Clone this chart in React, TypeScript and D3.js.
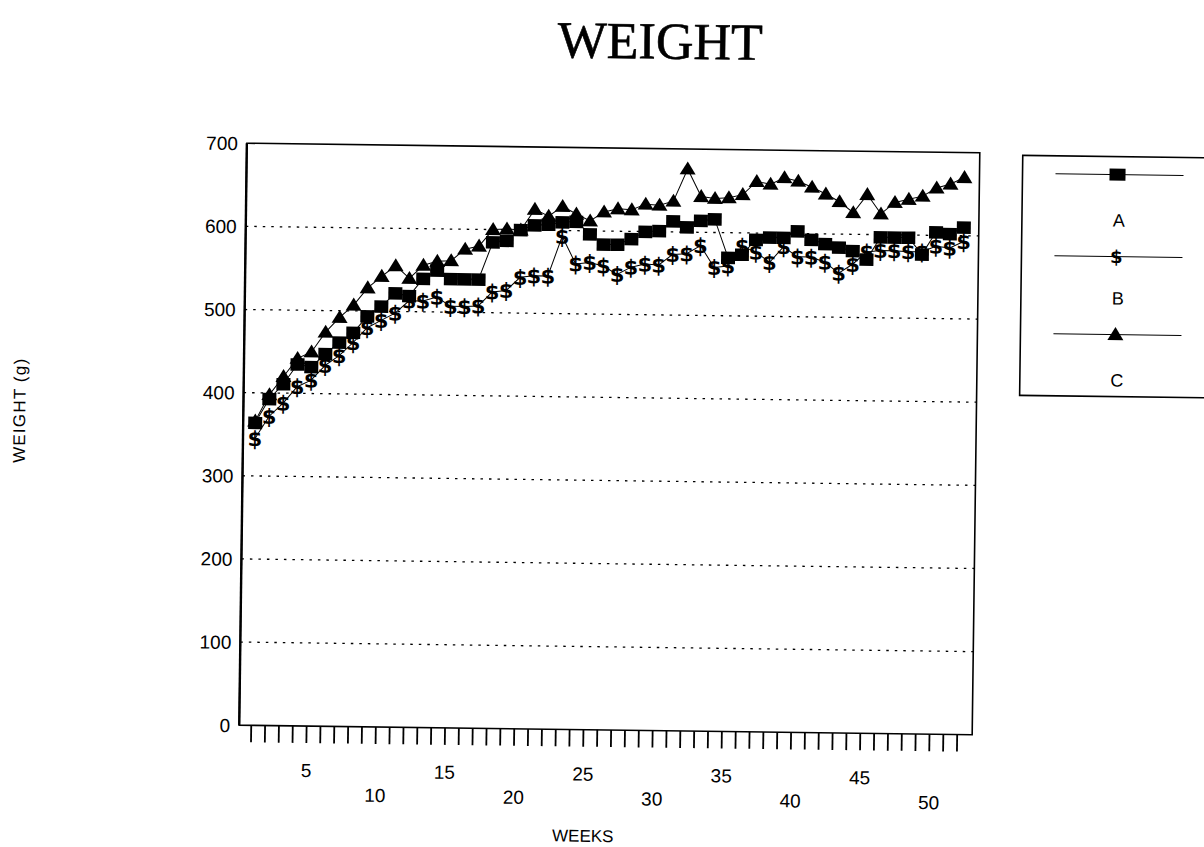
import React from "react";
import * as d3 from "d3";

const WEEKS = [1, 2, 3, 4, 5, 6, 7, 8, 9, 10, 11, 12, 13, 14, 15, 16, 17, 18, 19, 20, 21, 22, 23, 24, 25, 26, 27, 28, 29, 30, 31, 32, 33, 34, 35, 36, 37, 38, 39, 40, 41, 42, 43, 44, 45, 46, 47, 48, 49, 50, 51, 52];

const SERIES_A = [364, 393, 411, 435, 432, 448, 462, 474, 494, 506, 522, 519, 540, 550, 540, 540, 540, 585, 587, 600, 606, 607, 610, 611, 596, 584, 584, 591, 600, 601, 613, 606, 614, 616, 570, 574, 592, 595, 595, 603, 593, 588, 584, 580, 570, 597, 597, 597, 577, 604, 602, 610];

const SERIES_B = [345, 372, 388, 408, 416, 434, 446, 462, 480, 489, 498, 513, 513, 518, 507, 507, 508, 525, 527, 543, 545, 545, 593, 560, 562, 558, 548, 557, 561, 560, 573, 574, 584, 558, 560, 584, 577, 565, 584, 572, 572, 566, 553, 564, 579, 581, 581, 580, 580, 587, 585, 593];

const SERIES_C = [366, 398, 420, 442, 450, 474, 492, 507, 528, 542, 555, 540, 556, 561, 562, 576, 580, 600, 601, 600, 625, 617, 629, 620, 612, 623, 627, 626, 633, 632, 637, 676, 643, 641, 642, 646, 662, 659, 667, 663, 656, 648, 639, 626, 648, 625, 639, 643, 647, 657, 662, 670];

const Y_TICKS = [0, 100, 200, 300, 400, 500, 600, 700];
const GRID_VALUES = [100, 200, 300, 400, 500, 600];
const X_LABELS_UPPER = [5, 15, 25, 35, 45];
const X_LABELS_LOWER = [10, 20, 30, 40, 50];
const LEGEND_NAMES = ["A", "B", "C"];

const SANS = "'Liberation Sans', Arial, sans-serif";
const DOLLAR_FONT = "'DejaVu Sans', 'Liberation Sans', sans-serif";

export default function App() {
  const x = d3.scaleLinear().domain([1, 52]).range([255, 961]);
  const y = d3.scaleLinear().domain([0, 700]).range([730, 148]);
  const left = 243;
  const right = 976;
  const top = y(700);
  const bottom = y(0);

  const lineGen = d3
    .line<number>()
    .x((_, i) => x(WEEKS[i]))
    .y((d) => y(d));

  const tri = (cx: number, cy: number) =>
    `M${cx},${cy - 7.5} L${cx + 8},${cy + 5.5} L${cx - 8},${cy + 5.5} Z`;

  const legendX1 = 1052;
  const legendX2 = 1180;
  const legendCx = 1114;
  const legendRows = [168, 250, 328];
  const legendLabelY = [220, 298, 380];

  return (
    <div style={{ position: "absolute", left: 0, top: 0, width: 1204, height: 847, overflow: "hidden", background: "#fff" }}>
      <svg width={1204} height={847} style={{ display: "block" }}>
        <rect x={0} y={0} width={1204} height={847} fill="#fff" />
        <g transform="rotate(0.75 610 440)">
          <text
            x={655}
            y={58}
            textAnchor="middle"
            fontFamily="'Liberation Serif', 'Times New Roman', serif"
            fontSize={52}
            fill="#000"
            stroke="#000"
            strokeWidth={0.6}
          >
            WEIGHT
          </text>

          {/* gridlines */}
          {GRID_VALUES.map((v) => (
            <line key={v} x1={left} x2={right} y1={y(v)} y2={y(v)} stroke="#000" strokeWidth={1.3} strokeDasharray="2.5 6" />
          ))}

          {/* frame */}
          <rect x={left} y={top} width={right - left} height={bottom - top} fill="none" stroke="#000" strokeWidth={1.6} />
          <line x1={left} x2={left} y1={top} y2={bottom} stroke="#000" strokeWidth={2.4} />

          {/* x ticks */}
          {WEEKS.map((w) => (
            <line key={w} x1={x(w)} x2={x(w)} y1={bottom} y2={bottom + 17} stroke="#000" strokeWidth={1.8} />
          ))}

          {/* y tick labels */}
          {Y_TICKS.map((v) => (
            <text key={v} x={234} y={y(v) + 7} textAnchor="end" fontFamily={SANS} fontSize={19} fill="#000">
              {v}
            </text>
          ))}

          {/* x tick labels */}
          {X_LABELS_UPPER.map((v) => (
            <text key={v} x={x(v)} y={781} textAnchor="middle" fontFamily={SANS} fontSize={19} fill="#000">
              {v}
            </text>
          ))}
          {X_LABELS_LOWER.map((v) => (
            <text key={v} x={x(v)} y={805} textAnchor="middle" fontFamily={SANS} fontSize={19} fill="#000">
              {v}
            </text>
          ))}

          <text x={588} y={842} textAnchor="middle" fontFamily={SANS} fontSize={17} fill="#000">
            WEEKS
          </text>
          <text
            x={0}
            y={0}
            transform="translate(25 418) rotate(-90)"
            textAnchor="middle"
            fontFamily={SANS}
            fontSize={17}
            letterSpacing={1.2}
            fill="#000"
          >
            WEIGHT (g)
          </text>

          {/* series lines */}
          <path d={lineGen(SERIES_A) || ""} fill="none" stroke="#000" strokeWidth={1} />
          <path d={lineGen(SERIES_B) || ""} fill="none" stroke="#000" strokeWidth={1} />
          <path d={lineGen(SERIES_C) || ""} fill="none" stroke="#000" strokeWidth={1} />

          {/* A squares */}
          {SERIES_A.map((v, i) => (
            <rect key={"a" + i} x={x(WEEKS[i]) - 7} y={y(v) - 6} width={14} height={12.5} fill="#000" />
          ))}
          {/* B dollar glyphs */}
          {SERIES_B.map((v, i) => (
            <text
              key={"b" + i}
              x={x(WEEKS[i])}
              y={y(v) + 7.5}
              textAnchor="middle"
              fontFamily={DOLLAR_FONT}
              fontWeight="bold"
              fontSize={21}
              fill="#000"
            >
              $
            </text>
          ))}
          {/* C triangles */}
          {SERIES_C.map((v, i) => (
            <path key={"c" + i} d={tri(x(WEEKS[i]), y(v))} fill="#000" />
          ))}

          {/* legend */}
          <rect x={1019} y={150} width={220} height={240} fill="#fff" stroke="#000" strokeWidth={1.6} />
          {legendRows.map((ly, i) => (
            <line key={"ll" + i} x1={legendX1} x2={legendX2} y1={ly} y2={ly} stroke="#000" strokeWidth={1} />
          ))}
          <rect x={legendCx - 8} y={legendRows[0] - 6} width={16} height={12} fill="#000" />
          <text x={legendCx} y={legendRows[1] + 6.5} textAnchor="middle" fontFamily={DOLLAR_FONT} fontWeight="bold" fontSize={18} fill="#000">
            $
          </text>
          <path d={tri(legendCx, legendRows[2])} fill="#000" />
          {LEGEND_NAMES.map((n, i) => (
            <text key={n} x={legendCx + 2} y={legendLabelY[i]} textAnchor="middle" fontFamily={SANS} fontSize={18} fill="#000">
              {n}
            </text>
          ))}
        </g>
      </svg>
    </div>
  );
}
